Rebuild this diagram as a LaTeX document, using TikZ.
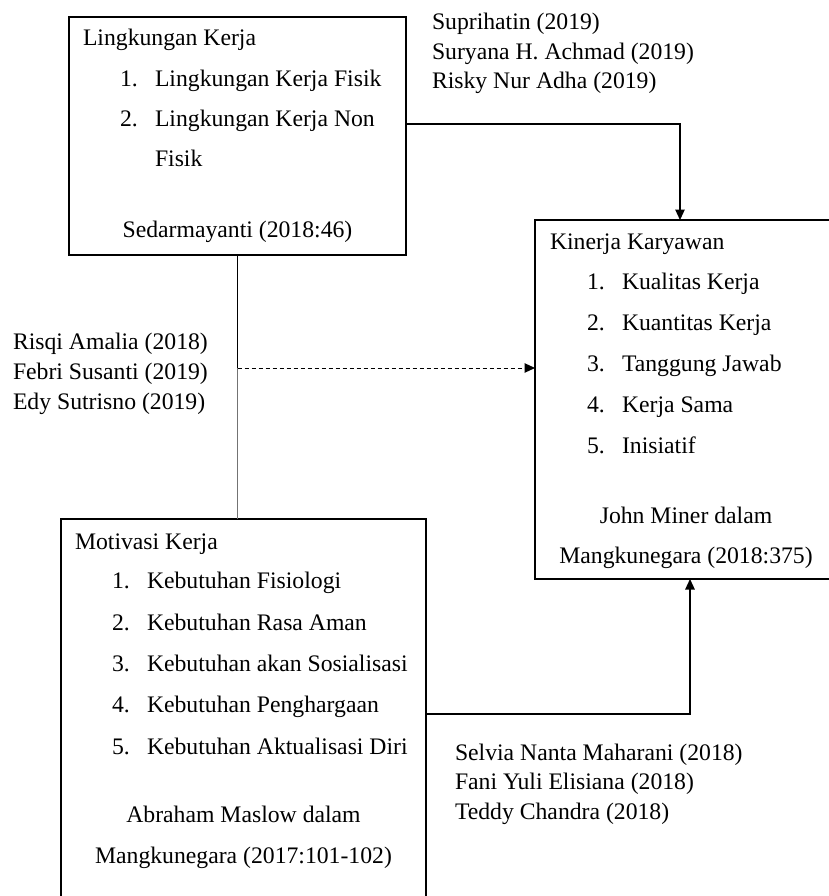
\documentclass[tikz,border=0pt]{standalone}
\usepackage{fontspec}
\setmainfont{Liberation Serif}
\usetikzlibrary{arrows.meta}
\begin{document}
\begin{tikzpicture}[x=1pt,y=-1pt,
  every node/.style={font=\fontsize{23.7pt}{28pt}\selectfont, inner sep=0pt, outer sep=0pt},
  txt/.style={anchor=base west},
  ctxt/.style={anchor=base},
  boxnode/.style={draw, line width=1.3pt},
  conn/.style={line width=1.2pt},
  arr/.style={conn, -{Triangle[length=10.5pt,width=9.5pt]}},
]
\clip (0,0) rectangle (829,896);
\fill[white] (0,0) rectangle (829,896);

% boxes
\node[boxnode, minimum width=337pt, minimum height=238pt] (lk) at (237.5,136) {};
\node[boxnode, minimum width=303pt, minimum height=359pt] (kin) at (686.5,399.5) {};
\node[boxnode, minimum width=365pt, minimum height=390pt] (mot) at (243.5,714) {};

% box 1 text
\node[txt] (lkT) at (83,46) {Lingkungan Kerja};
\node[txt] (lkN1) at (120,87) {1.};
\node[txt] (lkI1) at (155,87) {Lingkungan Kerja Fisik};
\node[txt] (lkN2) at (120,127) {2.};
\node[txt] (lkI2) at (155,127) {Lingkungan Kerja Non};
\node[txt] (lkI2b) at (155,167) {Fisik};
\node[ctxt] (lkS) at (237.5,237) {Sedarmayanti (2018:46)};

% Kinerja text
\node[txt] (kinT) at (550,249) {Kinerja Karyawan};
\foreach \n/\y/\t in {1/289/Kualitas Kerja, 2/330/Kuantitas Kerja, 3/371/Tanggung Jawab, 4/412/Kerja Sama, 5/453/Inisiatif}{
  \node[txt] (kinN\n) at (587,\y) {\n.};
  \node[txt] (kinI\n) at (622,\y) {\t};
}
\node[ctxt] (kinS1) at (686,523) {John Miner dalam};
\node[ctxt] (kinS2) at (686,563) {Mangkunegara (2018:375)};

% Motivasi text
\node[txt] (motT) at (75,549) {Motivasi Kerja};
\foreach \n/\y/\t in {1/588/Kebutuhan Fisiologi, 2/630/Kebutuhan Rasa Aman, 3/671/Kebutuhan akan Sosialisasi, 4/712/Kebutuhan Penghargaan, 5/754/Kebutuhan Aktualisasi Diri}{
  \node[txt] (motN\n) at (112,\y) {\n.};
  \node[txt] (motI\n) at (147,\y) {\t};
}
\node[ctxt] (motS1) at (243.5,822) {Abraham Maslow dalam};
\node[ctxt] (motS2) at (243.5,863) {Mangkunegara (2017:101-102)};

% citations
\node[txt] (c1a) at (432,30) {Suprihatin (2019)};
\node[txt] (c1b) at (432,59.5) {Suryana H. Achmad (2019)};
\node[txt] (c1c) at (432,89) {Risky Nur Adha (2019)};
\node[txt] (c2a) at (13,349) {Risqi Amalia (2018)};
\node[txt] (c2b) at (13,379) {Febri Susanti (2019)};
\node[txt] (c2c) at (13,409) {Edy Sutrisno (2019)};
\node[txt] (c3a) at (455,760) {Selvia Nanta Maharani (2018)};
\node[txt] (c3b) at (455,789) {Fani Yuli Elisiana (2018)};
\node[txt] (c3c) at (455,819) {Teddy Chandra (2018)};

% connectors
\coordinate (j) at (237.5,368);
\draw[arr] ([yshift=12pt]lk.east) -| ([xshift=-6.5pt]kin.north);
\draw[conn] (lk.south) -- (j);
\draw[conn, black!55] (j) -- (j |- mot.north);
\draw[arr, dashed, dash pattern=on 4pt off 3pt, line width=1pt] (j) -- (j -| kin.west);
\draw[arr] (mot.east) -| ([xshift=3.5pt]kin.south);
\end{tikzpicture}
\end{document}
